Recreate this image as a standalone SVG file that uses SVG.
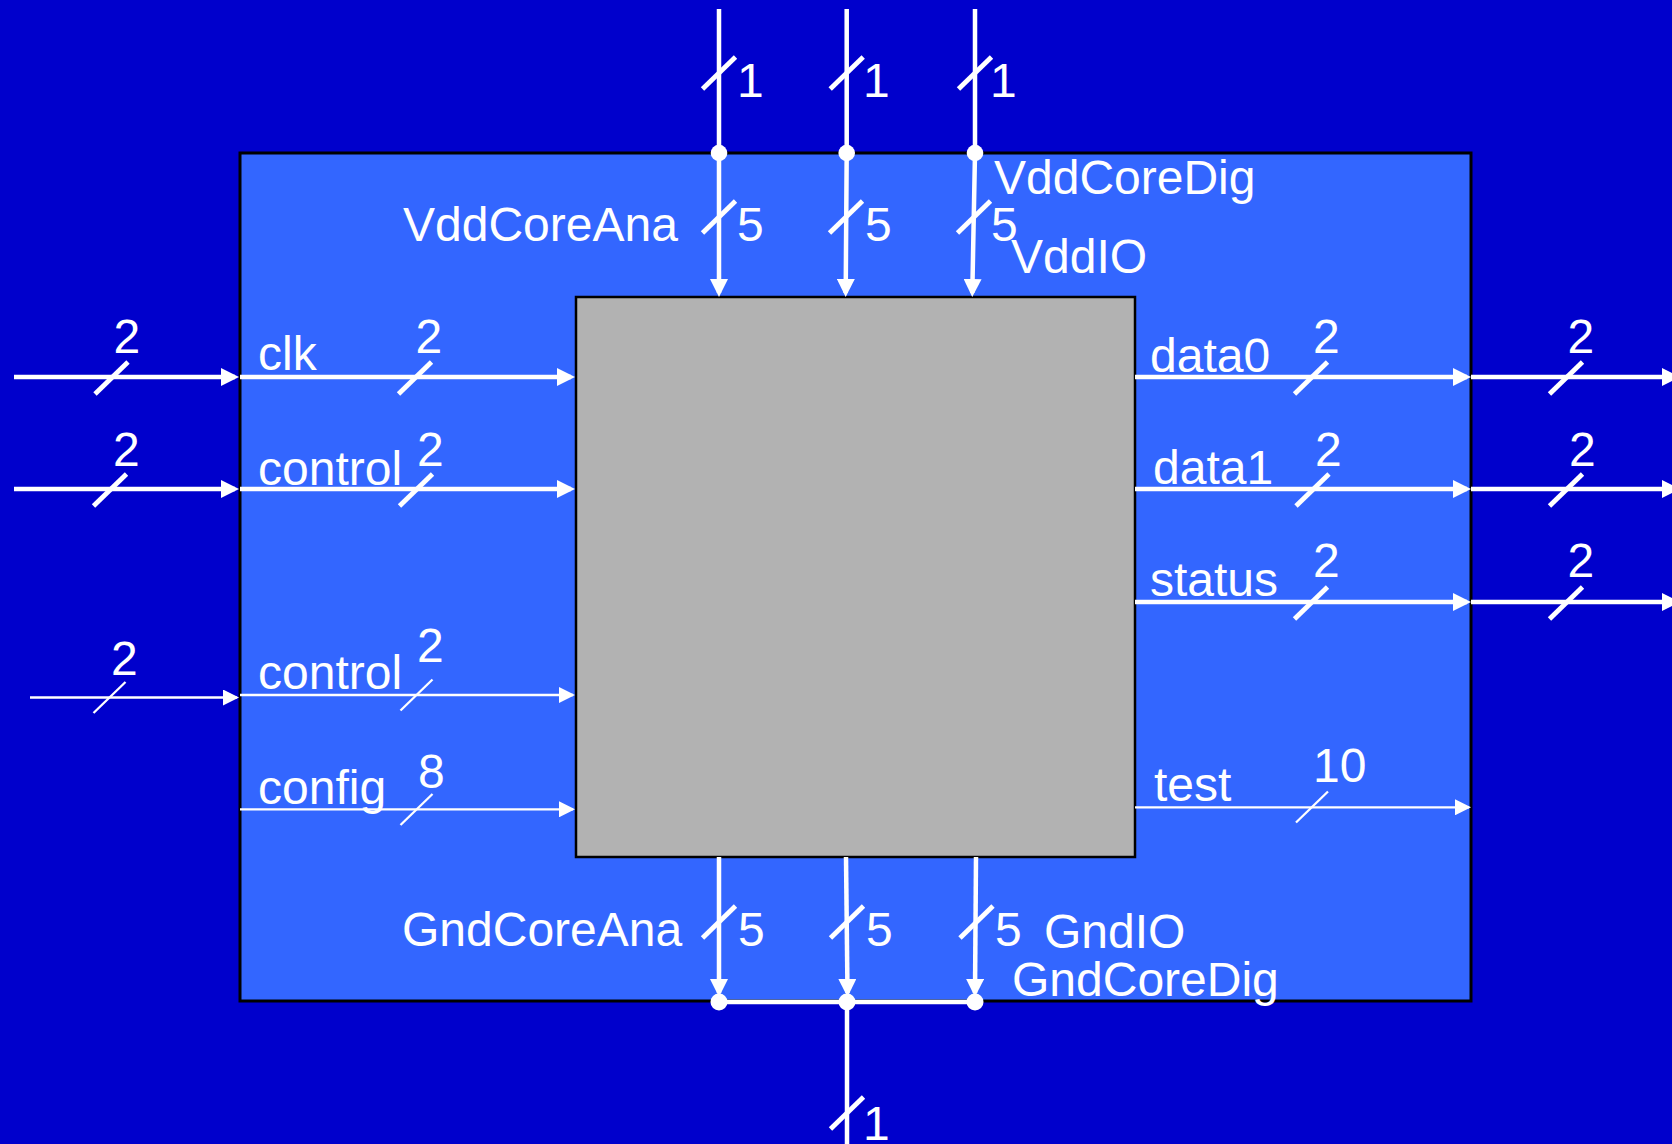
<svg xmlns="http://www.w3.org/2000/svg" xmlns:xlink="http://www.w3.org/1999/xlink" width="1672" height="1144" viewBox="0 0 1672 1144">
  <style>
    .bg { fill: #0000CC; }
    .outer { fill: #3366FF; stroke: #000000; stroke-width: 3; }
    .core { fill: #B2B2B2; stroke: #000000; stroke-width: 2.5; }
    .wire { fill: none; stroke: #FFFFFF; stroke-width: 4.5; }
    .wire-thin { fill: none; stroke: #FFFFFF; stroke-width: 2.3; }
    .tick { stroke: #FFFFFF; stroke-width: 4.8; }
    .tick-thin { stroke: #FFFFFF; stroke-width: 2.3; }
    .dot { fill: #FFFFFF; }
    text { font-family: "Liberation Sans", Arial, sans-serif; font-size: 48px; fill: #FFFFFF; }
  </style>
  <defs>
    <marker id="arrow" markerUnits="userSpaceOnUse" markerWidth="18" markerHeight="18" refX="14" refY="9" orient="auto">
      <path d="M0,0 L18,9 L0,18 Z" fill="#FFFFFF"/>
    </marker>
    <marker id="arrow-thin" markerUnits="userSpaceOnUse" markerWidth="16" markerHeight="16" refX="14" refY="8" orient="auto">
      <path d="M0,0 L16,8 L0,16 Z" fill="#FFFFFF"/>
    </marker>
    <!-- bus-width tick marks -->
    <line id="tk" class="tick" x1="-16.5" y1="16" x2="16.5" y2="-16"/>
    <line id="tk-thin" class="tick-thin" x1="-16" y1="15.5" x2="16" y2="-15.5"/>
  </defs>

  <rect class="bg" x="0" y="0" width="1672" height="1144"/>

  <g id="block-outer">
    <rect class="outer" x="240" y="153" width="1231" height="848"/>
  </g>

  <g id="block-core">
    <rect class="core" x="576" y="297" width="559" height="560"/>
  </g>

  <g id="connectors">
    <!-- supply inputs from the top -->
    <polyline class="wire" points="719,9 719,293" marker-end="url(#arrow)"/>
    <polyline class="wire" points="846.7,9 846.7,153 845.7,293" marker-end="url(#arrow)"/>
    <polyline class="wire" points="975,9 975,153 972.3,293" marker-end="url(#arrow)"/>
    <circle class="dot" cx="719" cy="153" r="8.3"/>
    <circle class="dot" cx="846.7" cy="153" r="8.3"/>
    <circle class="dot" cx="975" cy="153" r="8.3"/>
    <use xlink:href="#tk" x="719" y="73"/>
    <use xlink:href="#tk" x="846.7" y="73"/>
    <use xlink:href="#tk" x="975" y="73"/>
    <use xlink:href="#tk" x="719" y="217"/>
    <use xlink:href="#tk" x="846" y="217"/>
    <use xlink:href="#tk" x="974" y="217"/>

    <!-- ground returns to the bottom -->
    <line class="wire" x1="719" y1="857" x2="719" y2="993" marker-end="url(#arrow)"/>
    <line class="wire" x1="846" y1="857" x2="847.5" y2="993" marker-end="url(#arrow)"/>
    <line class="wire" x1="976" y1="857" x2="975" y2="993" marker-end="url(#arrow)"/>
    <line class="wire" x1="719" y1="1002" x2="975" y2="1002"/>
    <line class="wire" x1="847" y1="1002" x2="847" y2="1144"/>
    <circle class="dot" cx="719" cy="1002" r="8.5"/>
    <circle class="dot" cx="847" cy="1002" r="8.5"/>
    <circle class="dot" cx="975" cy="1002" r="8.5"/>
    <use xlink:href="#tk" x="719" y="922"/>
    <use xlink:href="#tk" x="847" y="922"/>
    <use xlink:href="#tk" x="976.5" y="922"/>
    <use xlink:href="#tk" x="847" y="1113"/>

    <!-- inputs on the left -->
    <line class="wire" x1="14" y1="377" x2="235" y2="377" marker-end="url(#arrow)"/>
    <line class="wire" x1="240" y1="377" x2="571" y2="377" marker-end="url(#arrow)"/>
    <use xlink:href="#tk" x="111.5" y="378"/>
    <use xlink:href="#tk" x="415" y="378"/>

    <line class="wire" x1="14" y1="489" x2="235" y2="489" marker-end="url(#arrow)"/>
    <line class="wire" x1="240" y1="489" x2="571" y2="489" marker-end="url(#arrow)"/>
    <use xlink:href="#tk" x="110" y="490"/>
    <use xlink:href="#tk" x="416" y="490"/>

    <line class="wire-thin" x1="30" y1="697.5" x2="237" y2="697.5" marker-end="url(#arrow-thin)"/>
    <line class="wire-thin" x1="240" y1="695" x2="573" y2="695" marker-end="url(#arrow-thin)"/>
    <use xlink:href="#tk-thin" x="109.5" y="697.5"/>
    <use xlink:href="#tk-thin" x="416.5" y="695"/>

    <line class="wire-thin" x1="240" y1="809.3" x2="573" y2="809.3" marker-end="url(#arrow-thin)"/>
    <use xlink:href="#tk-thin" x="416.5" y="809.5"/>

    <!-- outputs on the right -->
    <line class="wire" x1="1135" y1="377" x2="1467" y2="377" marker-end="url(#arrow)"/>
    <line class="wire" x1="1471" y1="377" x2="1676" y2="377" marker-end="url(#arrow)"/>
    <use xlink:href="#tk" x="1311" y="378"/>
    <use xlink:href="#tk" x="1566" y="378"/>

    <line class="wire" x1="1135" y1="489" x2="1467" y2="489" marker-end="url(#arrow)"/>
    <line class="wire" x1="1471" y1="489" x2="1676" y2="489" marker-end="url(#arrow)"/>
    <use xlink:href="#tk" x="1312.5" y="490"/>
    <use xlink:href="#tk" x="1566" y="490"/>

    <line class="wire" x1="1135" y1="602" x2="1467" y2="602" marker-end="url(#arrow)"/>
    <line class="wire" x1="1471" y1="602" x2="1676" y2="602" marker-end="url(#arrow)"/>
    <use xlink:href="#tk" x="1311" y="603"/>
    <use xlink:href="#tk" x="1566" y="603"/>

    <line class="wire-thin" x1="1135" y1="807.3" x2="1469" y2="807.3" marker-end="url(#arrow-thin)"/>
    <use xlink:href="#tk-thin" x="1312" y="807"/>
  </g>

  <g id="labels">
    <!-- bus widths, top -->
    <text x="737" y="97">1</text>
    <text x="863" y="97">1</text>
    <text x="990" y="97">1</text>
    <text x="737" y="241">5</text>
    <text x="865" y="241">5</text>
    <text x="991" y="241">5</text>
    <!-- supply names -->
    <text x="403" y="241">VddCoreAna</text>
    <text x="994" y="194">VddCoreDig</text>
    <text x="1011" y="273">VddIO</text>

    <!-- bus widths, bottom -->
    <text x="738" y="946">5</text>
    <text x="866" y="946">5</text>
    <text x="995" y="946">5</text>
    <text x="863" y="1140">1</text>
    <!-- ground names -->
    <text x="402" y="946">GndCoreAna</text>
    <text x="1044" y="948">GndIO</text>
    <text x="1012" y="996">GndCoreDig</text>

    <!-- left side -->
    <text x="113.5" y="353">2</text>
    <text x="415.5" y="353">2</text>
    <text x="258" y="370">clk</text>
    <text x="113" y="466">2</text>
    <text x="417" y="466">2</text>
    <text x="258" y="485">control</text>
    <text x="111" y="675">2</text>
    <text x="417" y="662">2</text>
    <text x="258" y="689">control</text>
    <text x="418" y="788">8</text>
    <text x="258" y="804">config</text>

    <!-- right side -->
    <text x="1150" y="372">data0</text>
    <text x="1313" y="353">2</text>
    <text x="1567.5" y="353">2</text>
    <text x="1153" y="484">data1</text>
    <text x="1315" y="466">2</text>
    <text x="1569" y="466">2</text>
    <text x="1150" y="596">status</text>
    <text x="1313" y="577">2</text>
    <text x="1567.5" y="577">2</text>
    <text x="1154" y="801">test</text>
    <text x="1313" y="782">10</text>
  </g>
</svg>
